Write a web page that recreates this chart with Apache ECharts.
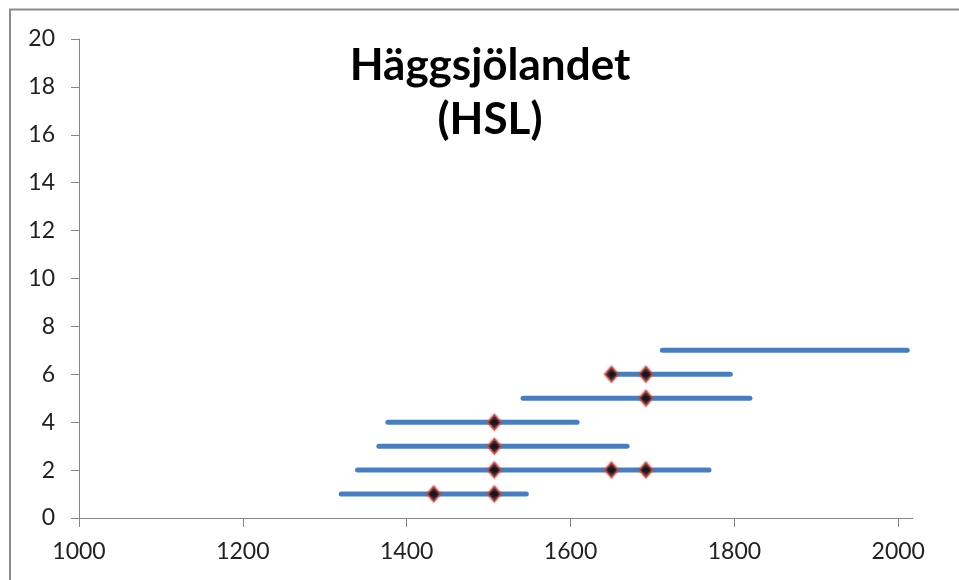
<!DOCTYPE html>
<html>
<head>
<meta charset="utf-8">
<script src="https://cdn.jsdelivr.net/npm/echarts@6/dist/echarts.min.js"></script>
<style>
  html, body { margin: 0; padding: 0; background: #ffffff; }
  #chart { width: 959px; height: 580px; }
</style>
</head>
<body>
<div id="chart"></div>
<script>
// Dating ranges (years) per sample row, Häggsjölandet (HSL)
const rowIds     = [1, 2, 3, 4, 5, 6, 7];
const rangeStart = [1320, 1340, 1366, 1377, 1542, 1650, 1712];
const rangeEnd   = [1546, 1769, 1669, 1608, 1819, 1795, 2011];

// Individual dated points on the ranges
const pointYear = [1433, 1507, 1507, 1650, 1692, 1507, 1507, 1692, 1650, 1692];
const pointRow  = [1,    1,    2,    2,    2,    3,    4,    5,    6,    6];

// Axis ticks
const xTicks = [1000, 1200, 1400, 1600, 1800, 2000];
const yTicks = [0, 2, 4, 6, 8, 10, 12, 14, 16, 18, 20];

const FONT = "Lato, 'Open Sans', 'Liberation Sans', sans-serif";
const AXIS_GREY = '#868686';

const rangeSeries = rowIds.map((row, i) => ({
  type: 'line',
  name: 'range ' + row,
  data: [[rangeStart[i], row], [rangeEnd[i], row]],
  showSymbol: false,
  symbol: 'none',
  silent: true,
  lineStyle: { color: '#4a7ebb', width: 5, cap: 'round' },
  z: 2
}));

const pointSeries = {
  type: 'scatter',
  name: 'points',
  data: pointYear.map((x, i) => [x, pointRow[i]]),
  symbol: 'diamond',
  symbolSize: [13, 15],
  itemStyle: {
    color: '#000000',
    borderColor: 'rgba(192,80,77,0.85)',
    borderWidth: 2,
    shadowColor: 'rgba(192,80,77,0.6)',
    shadowBlur: 3
  },
  z: 3
};

const chart = echarts.init(document.getElementById('chart'), null, { renderer: 'canvas' });
chart.setOption({
  animation: false,
  backgroundColor: '#ffffff',
  grid: { left: 79, right: 46, top: 39, bottom: 62, containLabel: false },
  graphic: [
    {
      type: 'polyline',
      shape: { points: [[10, 580], [10, 9.5], [959, 9.5]] },
      style: { stroke: '#8c8c8c', lineWidth: 2, fill: null },
      silent: true
    },
    {
      type: 'text',
      x: 490,
      y: 39,
      style: {
        text: 'Häggsjölandet\n(HSL)',
        font: 'bold 44px ' + FONT,
        lineHeight: 54,
        fill: '#000000',
        align: 'center',
        verticalAlign: 'top'
      },
      silent: true
    }
  ],
  xAxis: {
    type: 'value',
    min: 1000,
    max: 2018,
    interval: 200,
    axisLine: { show: true, lineStyle: { color: AXIS_GREY, width: 1 } },
    axisTick: { show: true, length: 9, customValues: xTicks, lineStyle: { color: AXIS_GREY } },
    axisLabel: {
      customValues: xTicks,
      formatter: v => String(v),
      margin: 22,
      fontFamily: FONT,
      fontSize: 23,
      color: '#222222'
    },
    splitLine: { show: false }
  },
  yAxis: {
    type: 'value',
    min: 0,
    max: 20,
    interval: 2,
    axisLine: { show: true, lineStyle: { color: AXIS_GREY, width: 1 } },
    axisTick: { show: true, length: 8, customValues: yTicks, lineStyle: { color: AXIS_GREY } },
    axisLabel: {
      customValues: yTicks,
      formatter: v => String(v),
      margin: 24,
      fontFamily: FONT,
      fontSize: 23,
      color: '#222222'
    },
    splitLine: { show: false }
  },
  series: [...rangeSeries, pointSeries]
});
</script>
</body>
</html>
